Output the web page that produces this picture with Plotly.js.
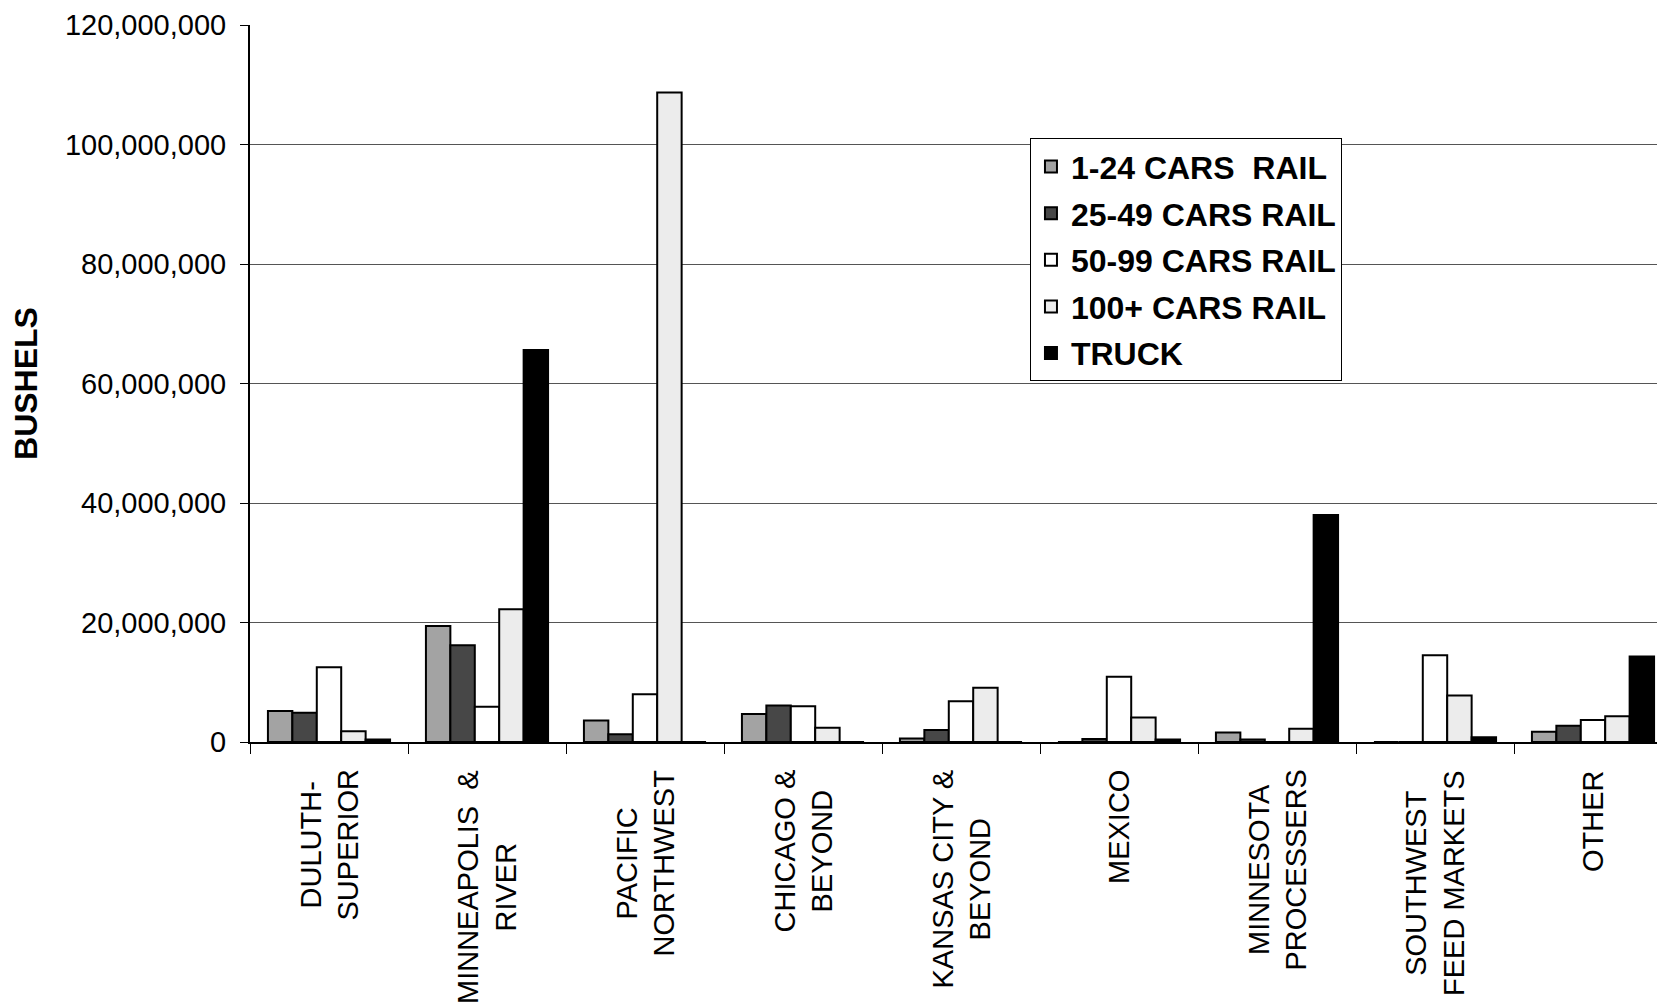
<!DOCTYPE html>
<html>
<head>
<meta charset="utf-8">
<script src="https://cdn.plot.ly/plotly-3.0.1.min.js"></script>
<style>
html,body{margin:0;padding:0;background:#fff;overflow:hidden;width:1657px;height:1008px;}
#chart{width:1690px;height:1008px;}
</style>
</head>
<body>
<div id="chart"></div>
<script>
// Category labels (destinations)
const categories = [
  "DULUTH-<br>SUPERIOR",
  "MINNEAPOLIS  &<br>RIVER",
  "PACIFIC<br>NORTHWEST",
  "CHICAGO &<br>BEYOND",
  "KANSAS CITY &<br>BEYOND",
  "MEXICO",
  "MINNESOTA<br>PROCESSERS",
  "SOUTHWEST<br>FEED MARKETS",
  "OTHER"
];
const seriesNames = ["1-24 CARS  RAIL", "25-49 CARS RAIL", "50-99 CARS RAIL", "100+ CARS RAIL", "TRUCK"];
// Bushels shipped, by shipment size
const rail1to24   = [5200000, 19400000, 3600000, 4700000, 600000, 0, 1600000, 0, 1700000];
const rail25to49  = [4900000, 16200000, 1300000, 6100000, 2000000, 500000, 400000, 0, 2700000];
const rail50to99  = [12500000, 5900000, 8000000, 6000000, 6800000, 10900000, 0, 14500000, 3700000];
const rail100plus = [1800000, 22200000, 108700000, 2400000, 9100000, 4100000, 2200000, 7800000, 4300000];
const truck       = [400000, 65600000, 0, 0, 0, 400000, 38000000, 800000, 14300000];
const yTickVals = [0, 20000000, 40000000, 60000000, 80000000, 100000000, 120000000];

const fills = ["#a3a3a3", "#474747", "#ffffff", "#ececec", "#000000"];
const allSeries = [rail1to24, rail25to49, rail50to99, rail100plus, truck];

const traces = allSeries.map((vals, i) => ({
  type: "bar",
  name: "<b>" + seriesNames[i] + "</b>",
  legendgroup: "g" + i,
  x: categories,
  y: vals,
  marker: {color: fills[i], line: {color: "#000", width: 2}}
}));

const font = "Liberation Sans, Arial, Helvetica, sans-serif";

const annotations = categories.map(c => ({
  x: c, xref: "x", y: 0, yref: "paper",
  xanchor: "center", yanchor: "top", yshift: -26,
  text: c, showarrow: false, textangle: -90, align: "center",
  font: {family: font, size: 29, color: "#000"}
}));

const layout = {
  width: 1690, height: 1008,
  margin: {l: 250, r: 18, t: 25, b: 266},
  paper_bgcolor: "#fff", plot_bgcolor: "#fff",
  barmode: "group", bargap: 0.227, bargroupgap: 0,
  showlegend: true,
  legend: {
    x: 0.5485, y: 0.842, xanchor: "left", yanchor: "top",
    bgcolor: "#fff", bordercolor: "#000", borderwidth: 1,
    font: {family: font, size: 32, color: "#000"},
    tracegroupgap: 2, traceorder: "grouped", itemwidth: 30
  },
  xaxis: {
    type: "category", showticklabels: false,
    ticks: "outside", tickson: "boundaries", ticklen: 10, tickcolor: "#000", tickwidth: 1,
    showline: true, linecolor: "#000", linewidth: 2, showgrid: false, zeroline: false
  },
  yaxis: {
    range: [0, 120000000], tickvals: yTickVals, tickformat: ",d",
    ticks: "outside", ticklen: 8, tickcolor: "#000", ticklabelstandoff: 8,
    showline: true, linecolor: "#000", linewidth: 2,
    showgrid: true, gridcolor: "#555", gridwidth: 1, zeroline: false,
    tickfont: {family: font, size: 29, color: "#000"},
    title: {text: "<b>BUSHELS</b>", font: {family: font, size: 32, color: "#000"}, standoff: 18}
  },
  annotations: annotations
};

Plotly.newPlot("chart", traces, layout, {displayModeBar: false, staticPlot: true});
</script>
</body>
</html>
